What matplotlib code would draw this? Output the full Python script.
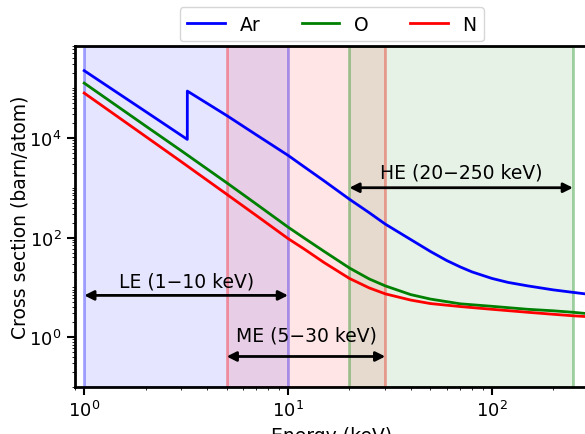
import numpy as np
import matplotlib
matplotlib.use('Agg')
import matplotlib.pyplot as plt
from matplotlib.ticker import LogLocator, NullFormatter

# energies (keV) and log10 cross sections (barn/atom)
ar_energy = [1, 2, 3.205, 3.206, 5, 7, 10, 12, 15, 20, 25, 30, 40, 50,
             60, 70, 80, 100, 120, 150, 200, 250, 300]
ar_logxs = [5.35, 4.53, 3.97, 4.94, 4.45, 4.06, 3.65, 3.42, 3.14, 2.77,
            2.50, 2.27, 1.96, 1.72, 1.54, 1.41, 1.31, 1.18, 1.10, 1.03,
            0.95, 0.90, 0.86]

light_energy = [1, 2, 3, 5, 7, 10, 12, 15, 20, 25, 30, 40, 50,
                70, 100, 150, 200, 250, 300]
o_logxs = [5.10, 4.24, 3.74, 3.10, 2.67, 2.21, 1.99, 1.725, 1.39, 1.17,
           1.03, 0.855, 0.765, 0.67, 0.62, 0.56, 0.53, 0.50, 0.47]
n_logxs = [4.90, 4.03, 3.52, 2.87, 2.44, 1.98, 1.77, 1.50, 1.18, 0.99,
           0.87, 0.745, 0.675, 0.615, 0.56, 0.50, 0.46, 0.43, 0.41]

# detector bands: name, low, high, colour
bands = [('LE', 1, 10, 'b'), ('ME', 5, 30, 'r'), ('HE', 20, 250, 'g')]

fs = 13.5

fig = plt.figure(figsize=(5.85, 4.35), dpi=100)
ax = fig.add_axes([0.128, 0.108, 0.879, 0.784])

ax.plot(ar_energy, 10 ** np.array(ar_logxs), color='b', lw=2, label='Ar')
ax.plot(light_energy, 10 ** np.array(o_logxs), color='g', lw=2, label='O')
ax.plot(light_energy, 10 ** np.array(n_logxs), color='r', lw=2, label='N')

for name, lo, hi, c in bands:
    rgb = matplotlib.colors.to_rgb(c)
    ax.axvspan(lo, hi, facecolor=rgb + (0.1,), edgecolor=rgb + (0.35,), lw=2)

ax.set_xscale('log')
ax.set_yscale('log')
ax.set_xlim(0.9, 300)
ax.set_ylim(0.1, 7e5)
ax.set_yticks([1e0, 1e2, 1e4])
ax.yaxis.set_minor_locator(LogLocator(base=10, subs=np.arange(1, 10), numticks=30))
ax.yaxis.set_minor_formatter(NullFormatter())

# arrows + labels for each band
arrow_y = {'LE': 6.9, 'ME': 0.41, 'HE': 1000}
text_y = {'LE': 8.8, 'ME': 0.72, 'HE': 1350}
for name, lo, hi, c in bands:
    ax.annotate('', xy=(lo, arrow_y[name]), xytext=(hi, arrow_y[name]),
                arrowprops=dict(arrowstyle='<|-|>', color='k', lw=2,
                                mutation_scale=14, shrinkA=0, shrinkB=0))
    ax.text(np.sqrt(lo * hi), text_y[name],
            '%s (%d\u2212%d keV)' % (name, lo, hi),
            ha='center', va='bottom', fontsize=fs)

ax.set_xlabel('Energy (keV)', fontsize=fs)
ax.set_ylabel('Cross section (barn/atom)', fontsize=fs, labelpad=0)
ax.tick_params(labelsize=13, width=1.5)
ax.tick_params(which='major', length=6)
for s in ax.spines.values():
    s.set_linewidth(2)

ax.legend(loc='lower center', bbox_to_anchor=(0.5, 1.0), ncol=3,
          fontsize=fs, borderaxespad=0.25, columnspacing=2.2)

fig.savefig('out.png', dpi=100)
